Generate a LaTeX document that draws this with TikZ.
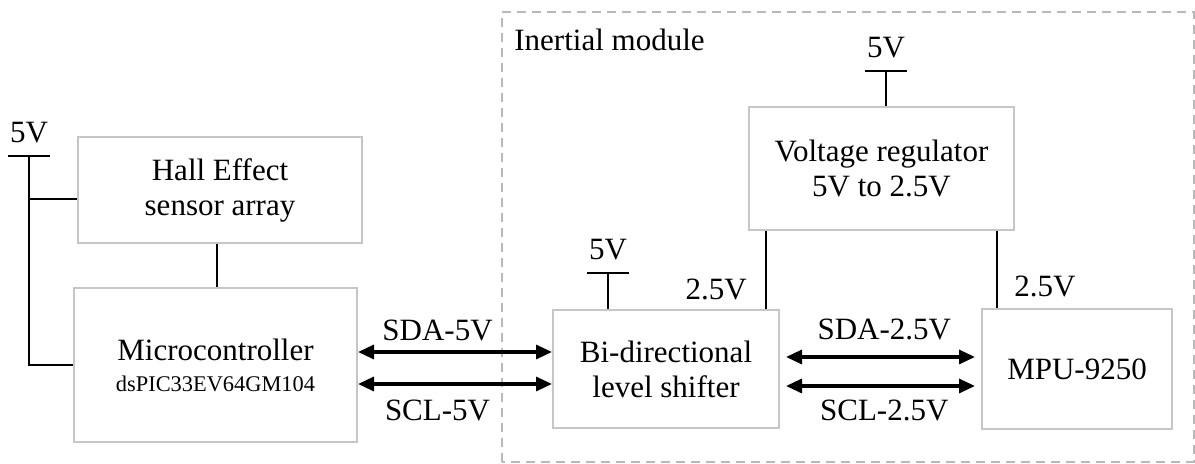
\documentclass[tikz,border=0pt]{standalone}
\usepackage{fontspec}
\setmainfont{Liberation Serif}
\usetikzlibrary{arrows.meta,positioning,calc}
\tikzset{
  block/.style={draw=gray!45, line width=1pt, inner sep=0pt, align=center,
    font=\fontsize{15.5}{17.5}\selectfont},
  wire/.style={line width=1.3pt},
  bus/.style={{Triangle[length=8pt,width=7pt]}-{Triangle[length=8pt,width=7pt]}, line width=1.6pt},
  lbl/.style={font=\fontsize{15.5}{17.5}\selectfont, inner sep=0pt}
}
\begin{document}
\begin{tikzpicture}[x=0.5pt,y=0.5pt]
  \useasboundingbox (0,0) rectangle (1195,464);
  % inertial module frame
  \draw[gray!55, line width=1pt, dash pattern=on 4.5pt off 3pt] (502,2) rectangle (1193.5,452);
  \node[lbl, anchor=west] (modlbl) at (514,424) {Inertial module};
  % blocks
  \node[block, minimum width=142pt, minimum height=53pt] (hall) at (220,274) {Hall Effect\\sensor array};
  \node[block, minimum width=141.5pt, minimum height=77pt] (micro) at (215.5,99)
    {Microcontroller\\[-2pt]{\fontsize{11.2}{13}\selectfont dsPIC33EV64GM104}};
  \node[block, minimum width=113pt, minimum height=59pt] (shifter) at (666,95) {Bi-directional\\level shifter};
  \node[block, minimum width=132.5pt, minimum height=61.5pt] (reg) at (881.5,295.5) {Voltage regulator\\5V to 2.5V};
  \node[block, minimum width=95pt, minimum height=60pt] (mpu) at (1077,95) {MPU-9250};
  % 5V supplies
  \foreach \n/\x/\y in {pwrA/29/308, pwrB/886/393, pwrC/608/191} {
    \coordinate (\n) at (\x,\y);
    \draw[wire] (\x-21,\y) -- (\x+21,\y);
    \node[lbl, anchor=base] (\n-lbl) at (\x,\y+13) {5V};
  }
  \draw[wire] (pwrA) -- (pwrA |- micro.west) -- (micro.west);
  \draw[wire] (pwrA |- 0,265) -- (hall.west |- 0,265);
  \draw[wire] (hall.south -| 217,0) -- (micro.north -| 217,0);
  \draw[wire] (pwrB) -- (pwrB |- reg.north);
  \draw[wire] (pwrC) -- (pwrC |- shifter.north);
  % 2.5V rails
  \coordinate (railL) at ($(reg.south)+(-115.5,0)$);
  \coordinate (railR) at ($(reg.south)+(115.5,0)$);
  \draw[wire] (railL) -- (railL |- shifter.north) node[lbl, pos=0.75, left=9pt] {2.5V};
  \draw[wire] (railR) -- (railR |- mpu.north) node[lbl, pos=0.72, right=8pt] {2.5V};
  % I2C buses
  \draw[bus] (micro.east |- 0,112) -- (shifter.west |- 0,112) node[lbl, pos=0.41, above=11pt, anchor=center] {SDA-5V};
  \draw[bus] (micro.east |- 0,80) -- (shifter.west |- 0,80) node[lbl, pos=0.41, below=13pt, anchor=center] {SCL-5V};
  \draw[bus] ([xshift=3pt]shifter.east |- 0,107) -- ([xshift=-3pt]mpu.west |- 0,107) node[lbl, pos=0.52, above=14pt, anchor=center] {SDA-2.5V};
  \draw[bus] ([xshift=3pt]shifter.east |- 0,78) -- ([xshift=-3pt]mpu.west |- 0,78) node[lbl, pos=0.52, below=12pt, anchor=center] {SCL-2.5V};
\end{tikzpicture}
\end{document}
